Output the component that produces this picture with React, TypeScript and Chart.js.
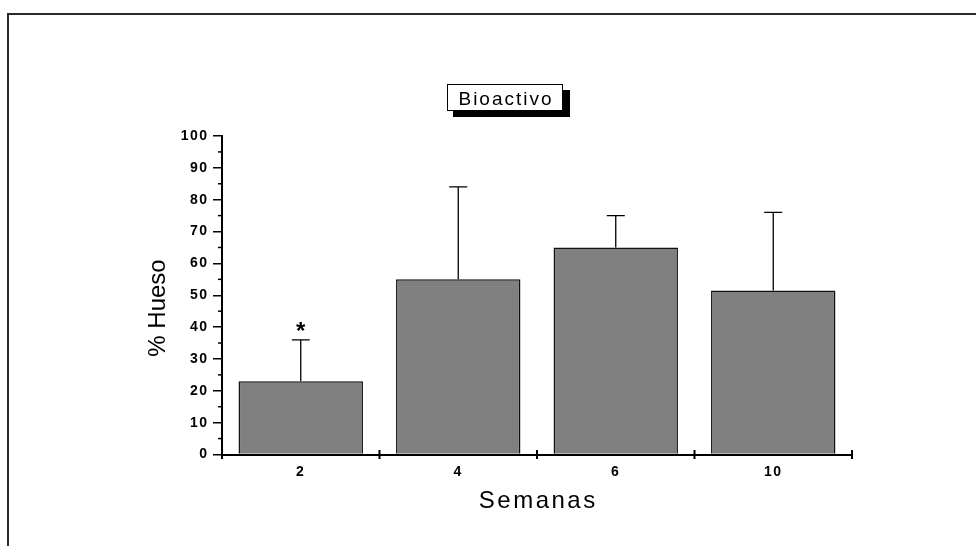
import React, { useEffect, useRef } from 'react';
import { Chart, registerables } from 'chart.js';

Chart.register(...registerables);

// ---- data ----
const categories = ['2', '4', '6', '10'];
const means = [23, 55, 65, 51.5];
const sds = [13, 29, 10, 24.5];
const marks = ['*', '', '', ''];
const yMin = 0;
const yMax = 100;
const yStep = 10;
const yMinorStep = 5;
const chartTitle = 'Bioactivo';
const xTitle = 'Semanas';
const yTitle = '% Hueso';

const FONT = 'Arial, "Liberation Sans", Helvetica, sans-serif';

function drawCentered(
  ctx: CanvasRenderingContext2D,
  text: string,
  cx: number,
  cy: number,
  font: string,
  spacing = 0,
  rot = 0
) {
  ctx.save();
  ctx.font = font;
  (ctx as any).letterSpacing = spacing + 'px';
  ctx.textAlign = 'left';
  ctx.textBaseline = 'alphabetic';
  ctx.fillStyle = '#000';
  const m = ctx.measureText(text);
  const w = m.width - spacing;
  const asc = m.actualBoundingBoxAscent;
  const desc = m.actualBoundingBoxDescent;
  ctx.translate(cx, cy);
  if (rot) ctx.rotate(rot);
  ctx.fillText(text, -w / 2, (asc - desc) / 2);
  ctx.restore();
}

const decorPlugin = {
  id: 'decor',
  beforeDraw(chart: any) {
    const ctx: CanvasRenderingContext2D = chart.ctx;
    ctx.save();
    ctx.fillStyle = '#fff';
    ctx.fillRect(0, 0, chart.width, chart.height);
    // outer frame
    ctx.strokeStyle = '#2b2b2b';
    ctx.lineWidth = 2;
    ctx.beginPath();
    ctx.moveTo(8, chart.height + 10);
    ctx.lineTo(8, 14);
    ctx.lineTo(chart.width + 10, 14);
    ctx.stroke();
    ctx.restore();
    (ctx as any).letterSpacing = '1.5px';
  },
  afterDatasetsDraw(chart: any) {
    const ctx: CanvasRenderingContext2D = chart.ctx;
    (ctx as any).letterSpacing = '0px';
    const xs = chart.scales.x;
    const ys = chart.scales.y;
    const area = chart.chartArea;
    const meta = chart.getDatasetMeta(0);

    ctx.save();
    // minor y ticks
    ctx.strokeStyle = '#000';
    ctx.lineWidth = 1.5;
    for (let v = yMin + yMinorStep; v < yMax; v += yStep) {
      const y = ys.getPixelForValue(v);
      ctx.beginPath();
      ctx.moveTo(area.left - 4, y);
      ctx.lineTo(area.left, y);
      ctx.stroke();
    }
    // x boundary ticks (crossing the axis)
    const cw = xs.getPixelForValue(1) - xs.getPixelForValue(0);
    ctx.lineWidth = 2;
    for (let i = 0; i <= categories.length; i++) {
      const x = xs.getPixelForValue(0) - cw / 2 + i * cw;
      ctx.beginPath();
      ctx.moveTo(x, area.bottom - 4.5);
      ctx.lineTo(x, area.bottom + 4.5);
      ctx.stroke();
    }
    // error bars
    ctx.lineWidth = 1.3;
    ctx.strokeStyle = '#000';
    meta.data.forEach((bar: any, i: number) => {
      const x = bar.x;
      const yTop = ys.getPixelForValue(means[i] + sds[i]);
      const yBar = ys.getPixelForValue(means[i]);
      ctx.beginPath();
      ctx.moveTo(x, yBar);
      ctx.lineTo(x, yTop);
      ctx.moveTo(x - 9, yTop);
      ctx.lineTo(x + 9, yTop);
      ctx.stroke();
      if (marks[i]) {
        drawCentered(ctx, marks[i], x, yTop - 13.5, 'bold 24px ' + FONT);
      }
    });

    // title box with shadow
    ctx.fillStyle = '#000';
    ctx.fillRect(453, 90, 117, 27);
    ctx.fillStyle = '#fff';
    ctx.fillRect(447, 84, 116, 27);
    ctx.strokeStyle = '#000';
    ctx.lineWidth = 1;
    ctx.strokeRect(447.5, 84.5, 115, 26);
    ctx.restore();

    drawCentered(ctx, chartTitle, 505, 98, '19px ' + FONT, 2);
    // axis titles
    drawCentered(ctx, xTitle, (area.left + area.right) / 2, 499.5, '24px ' + FONT, 2.5);
    drawCentered(ctx, yTitle, 156.5, 308, '24px ' + FONT, 0, -Math.PI / 2);
    (ctx as any).letterSpacing = '1.5px';
  },
  afterDraw(chart: any) {
    (chart.ctx as any).letterSpacing = '0px';
  },
};

export default function App() {
  const ref = useRef<HTMLCanvasElement | null>(null);
  useEffect(() => {
    if (!ref.current) return;
    const chart = new Chart(ref.current, {
      type: 'bar',
      data: {
        labels: categories,
        datasets: [
          {
            data: means,
            backgroundColor: '#808080',
            borderColor: '#111',
            borderWidth: 1.5,
            borderSkipped: 'start',
            barPercentage: 0.79,
            categoryPercentage: 1,
          },
        ],
      },
      options: {
        responsive: false,
        animation: false,
        devicePixelRatio: 1,
        layout: { padding: { left: 0, top: 136, right: 124, bottom: 0 } },
        plugins: {
          legend: { display: false },
          title: { display: false },
          tooltip: { enabled: false },
        },
        scales: {
          x: {
            type: 'category',
            offset: true,
            grid: { display: false },
            border: { display: true, color: '#000', width: 2 },
            ticks: {
              color: '#000',
              font: { family: FONT, size: 14, weight: 'bold' },
              padding: 1,
              maxRotation: 0,
              autoSkip: false,
            },
            afterFit: (s: any) => {
              s.height = 91.5;
            },
          },
          y: {
            type: 'linear',
            min: yMin,
            max: yMax,
            grid: {
              display: true,
              drawOnChartArea: false,
              drawTicks: true,
              tickLength: 9,
              color: '#000',
              lineWidth: 1.5,
            },
            border: { display: true, color: '#000', width: 2 },
            ticks: {
              stepSize: yStep,
              color: '#000',
              font: { family: FONT, size: 14, weight: 'bold' },
              padding: 4.5,
            },
            afterFit: (s: any) => {
              s.width = 222;
            },
          },
        },
      },
      plugins: [decorPlugin],
    });
    return () => chart.destroy();
  }, []);
  return (
    <div style={{ position: 'fixed', left: 0, top: 0, width: 976, height: 546, background: '#fff' }}>
      <canvas ref={ref} width={976} height={546} style={{ display: 'block' }} />
    </div>
  );
}
